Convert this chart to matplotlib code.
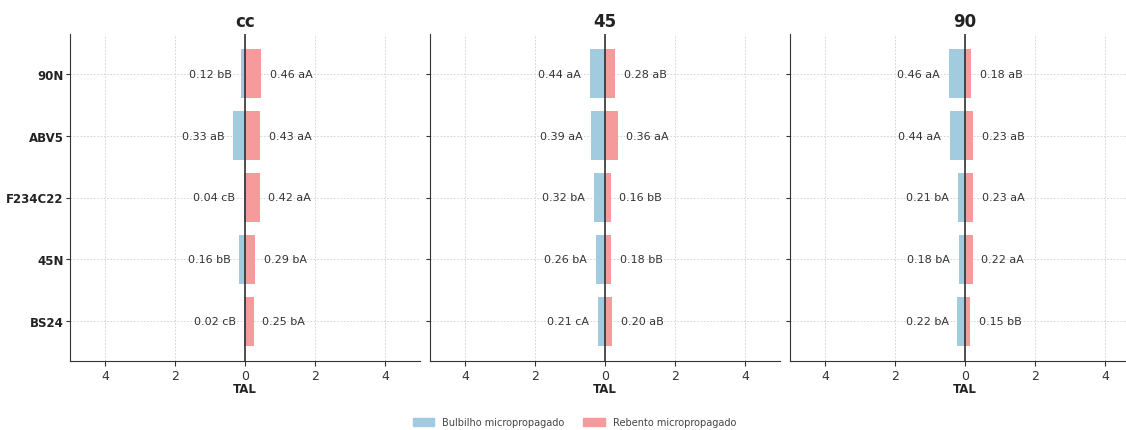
import matplotlib
matplotlib.use("Agg")
import matplotlib.pyplot as plt
import matplotlib.ticker as ticker
from matplotlib.patches import Patch

# ── dados ─────────────────────────────────────
clones = ["90N", "ABV5", "F234C22", "45N", "BS24"]
panels = ["cc", "45", "90"]

bulbilho = {
    "cc": [0.12, 0.33, 0.04, 0.16, 0.02],
    "45": [0.44, 0.39, 0.32, 0.26, 0.21],
    "90": [0.46, 0.44, 0.21, 0.18, 0.22],
}
bulbilho_let = {
    "cc": ["bB", "aB", "cB", "bB", "cB"],
    "45": ["aA", "aA", "bA", "bA", "cA"],
    "90": ["aA", "aA", "bA", "bA", "bA"],
}
rebento = {
    "cc": [0.46, 0.43, 0.42, 0.29, 0.25],
    "45": [0.28, 0.36, 0.16, 0.18, 0.20],
    "90": [0.18, 0.23, 0.23, 0.22, 0.15],
}
rebento_let = {
    "cc": ["aA", "aA", "aA", "bA", "bA"],
    "45": ["aB", "aA", "bB", "bB", "aB"],
    "90": ["aB", "aB", "aA", "aA", "bB"],
}

# ── estilo ────────────────────────────────────
CLR_BLUE = "#a2cbe0"
CLR_RED = "#f79a9b"
CLR_TEXT = "#333333"
CLR_GRID = "#cfcfcf"

fig = plt.figure(figsize=(11.26, 4.31), dpi=100)

lefts = [70, 430, 790]
W, H = 1126, 431
axes = []
for i, name in enumerate(panels):
    ax = fig.add_axes([lefts[i] / W, 1 - 362 / H, 350 / W, 327 / H])
    axes.append(ax)
    y = list(range(len(clones)))
    b = bulbilho[name]
    r = rebento[name]
    ax.barh(y, [-v for v in b], height=0.8, color=CLR_BLUE, zorder=2)
    ax.barh(y, r, height=0.8, color=CLR_RED, zorder=2)
    ax.axvline(0, color="#222222", lw=1.1, zorder=3)

    for yi, v, lab in zip(y, b, bulbilho_let[name]):
        ax.text(-v - 0.25, yi, f"{v:.2f} {lab}", ha="right", va="center",
                fontsize=8, color=CLR_TEXT, zorder=4)
    for yi, v, lab in zip(y, r, rebento_let[name]):
        ax.text(v + 0.25, yi, f"{v:.2f} {lab}", ha="left", va="center",
                fontsize=8, color=CLR_TEXT, zorder=4)

    ax.set_xlim(-5, 5)
    ax.set_yticks(y)
    ax.invert_yaxis()
    ax.xaxis.set_major_locator(ticker.FixedLocator([-4, -2, 0, 2, 4]))
    ax.xaxis.set_major_formatter(ticker.FuncFormatter(lambda v, p: f"{abs(v):g}"))
    ax.set_title(name, fontsize=12, fontweight="bold", color="#222222", pad=6)
    ax.set_xlabel("TAL", fontsize=8.5, fontweight="bold", color="#222222", labelpad=0)
    ax.grid(True, color=CLR_GRID, lw=0.6, linestyle=(0, (2, 2)), zorder=0)
    ax.set_axisbelow(True)
    for side in ["top", "right"]:
        ax.spines[side].set_visible(False)
    for side in ["left", "bottom"]:
        ax.spines[side].set_color("#333333")
    ax.tick_params(colors="#333333", labelsize=9, length=3.5)
    ax.tick_params(axis="x", pad=2.5)
    ax.tick_params(axis="y", pad=1.5, length=3)
    if i == 0:
        ax.set_yticklabels(clones, fontweight="bold", fontsize=8.5, color="#222222")
    else:
        ax.set_yticklabels([])

handles = [Patch(color=CLR_BLUE, label="Bulbilho micropropagado"),
           Patch(color=CLR_RED, label="Rebento micropropagado")]
fig.legend(handles=handles, loc="lower center", bbox_to_anchor=(0.51, -0.014),
           ncol=2, frameon=False, fontsize=7, handlelength=2.2, handleheight=0.8,
           columnspacing=2.0, labelcolor="#444444")

fig.savefig("out.png", dpi=100)
